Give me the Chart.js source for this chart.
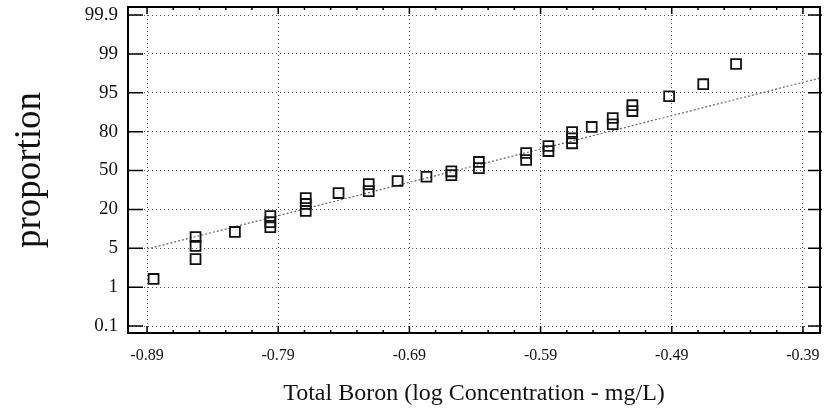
<!DOCTYPE html>
<html>
<head>
<meta charset="utf-8">
<script src="https://cdn.jsdelivr.net/npm/chart.js@4/dist/chart.umd.min.js"></script>
<style>
  html, body { margin: 0; padding: 0; background: #fff; }
  #wrap { width: 824px; height: 418px; }
</style>
</head>
<body>
<div id="wrap"><canvas id="chart" width="824" height="418"></canvas></div>
<script>
// observed values: log10 of total boron (mg/L)
var boronLog = [
    -0.885, -0.853, -0.853, -0.853, -0.823, -0.796, -0.796, -0.796,
    -0.769, -0.769, -0.769, -0.744, -0.721, -0.721, -0.699, -0.677,
    -0.658, -0.658, -0.637, -0.637, -0.601, -0.601, -0.584, -0.584,
    -0.566, -0.566, -0.566, -0.551, -0.535, -0.535, -0.520, -0.520,
    -0.492, -0.466, -0.441
];
// plotting position of each point on the probability axis (0 = 0.1%, 8 = 99.9%)
var probPos = [
    1.21, 2.29, 2.06, 1.72, 2.42, 2.83, 2.67, 2.54,
    3.29, 3.14, 2.96, 3.42, 3.65, 3.47, 3.73, 3.84,
    3.98, 3.88, 4.22, 4.06, 4.45, 4.27, 4.63, 4.50,
    4.99, 4.83, 4.70, 5.12, 5.35, 5.19, 5.68, 5.53,
    5.91, 6.22, 6.74
];
// fitted normal line (end points)
var fitX = [-0.89, -0.377];
var fitY = [1.98, 6.38];

var xTicks = [-0.89, -0.79, -0.69, -0.59, -0.49, -0.39];
var yTickLabels = ['0.1', '1', '5', '20', '50', '80', '95', '99', '99.9'];

var serif = '"Liberation Serif", "Times New Roman", serif';

function toPoints(xs, ys) {
    var pts = [];
    for (var i = 0; i < xs.length; i++) {
        pts.push({x: xs[i], y: ys[i]});
    }
    return pts;
}

// black frame and the short tick marks drawn along it
var framePlugin = {
    id: 'frame',
    afterDraw: function (chart) {
        var ctx = chart.ctx;
        var a = chart.chartArea;
        var xs = chart.scales.x;
        var ys = chart.scales.y;
        ctx.save();
        ctx.strokeStyle = '#000';
        ctx.lineWidth = 1.5;
        ctx.beginPath();
        yTickLabels.forEach(function (lbl, i) {
            var py = ys.getPixelForValue(i);
            ctx.moveTo(a.left, py);
            ctx.lineTo(a.left + 15, py);
            ctx.moveTo(a.right - 12, py);
            ctx.lineTo(a.right + 2, py);
        });
        for (var v = -0.89; v < -0.37; v += 0.02) {
            var px = xs.getPixelForValue(v);
            if (px <= a.left || px >= a.right) continue;
            var major = Math.abs(((v + 0.89) / 0.1) - Math.round((v + 0.89) / 0.1)) < 0.01;
            var len = major ? 7 : 3;
            ctx.moveTo(px, a.top);
            ctx.lineTo(px, a.top + len);
            ctx.moveTo(px, a.bottom);
            ctx.lineTo(px, a.bottom - len);
        }
        ctx.stroke();
        ctx.lineWidth = 2;
        ctx.strokeRect(a.left, a.top, a.right - a.left, a.bottom - a.top);
        ctx.restore();
    }
};

var ctx = document.getElementById('chart').getContext('2d');
var chart = new Chart(ctx, {
    type: 'scatter',
    data: {
        datasets: [
            {
                label: 'observed',
                data: toPoints(boronLog, probPos),
                pointStyle: 'rect',
                pointRadius: 7,
                pointHoverRadius: 7,
                borderColor: '#111',
                backgroundColor: 'rgba(0,0,0,0)',
                pointBorderWidth: 1.8,
                showLine: false
            },
            {
                label: 'normal fit',
                data: toPoints(fitX, fitY),
                showLine: true,
                pointRadius: 0,
                borderColor: '#666',
                borderWidth: 1.2,
                borderDash: [2, 2],
                fill: false
            }
        ]
    },
    options: {
        responsive: false,
        animation: false,
        layout: {
            autoPadding: false,
            padding: {top: 7, right: 4, left: 0, bottom: 0}
        },
        plugins: {
            legend: {display: false},
            tooltip: {enabled: false}
        },
        scales: {
            x: {
                type: 'linear',
                min: -0.9045,
                max: -0.377,
                afterFit: function (scale) {
                    scale.height = 85;
                    scale.paddingLeft = 0;
                    scale.paddingRight = 0;
                },
                afterBuildTicks: function (scale) {
                    scale.ticks = xTicks.map(function (v) { return {value: v}; });
                },
                ticks: {
                    autoSkip: false,
                    maxRotation: 0,
                    padding: 13,
                    color: '#111',
                    font: {family: serif, size: 16},
                    callback: function (v) { return v.toFixed(2); }
                },
                grid: {color: '#555', lineWidth: 1, drawTicks: false},
                border: {display: false, dash: [1, 3]},
                title: {
                    display: true,
                    text: 'Total Boron (log Concentration - mg/L)',
                    color: '#111',
                    font: {family: serif, size: 24},
                    padding: {top: 10, bottom: 10}
                }
            },
            y: {
                type: 'linear',
                min: -0.18,
                max: 8.206,
                afterFit: function (scale) {
                    scale.width = 128;
                    scale.paddingTop = 0;
                    scale.paddingBottom = 0;
                },
                afterBuildTicks: function (scale) {
                    scale.ticks = yTickLabels.map(function (l, i) { return {value: i}; });
                },
                ticks: {
                    autoSkip: false,
                    padding: 10,
                    color: '#111',
                    font: {family: serif, size: 19},
                    callback: function (v) { return yTickLabels[v]; }
                },
                grid: {color: '#555', lineWidth: 1, drawTicks: false},
                border: {display: false, dash: [1, 3]},
                title: {
                    display: true,
                    text: 'proportion',
                    color: '#111',
                    font: {family: serif, size: 37},
                    padding: {top: 8, bottom: 8}
                }
            }
        }
    },
    plugins: [framePlugin]
});
</script>
</body>
</html>
